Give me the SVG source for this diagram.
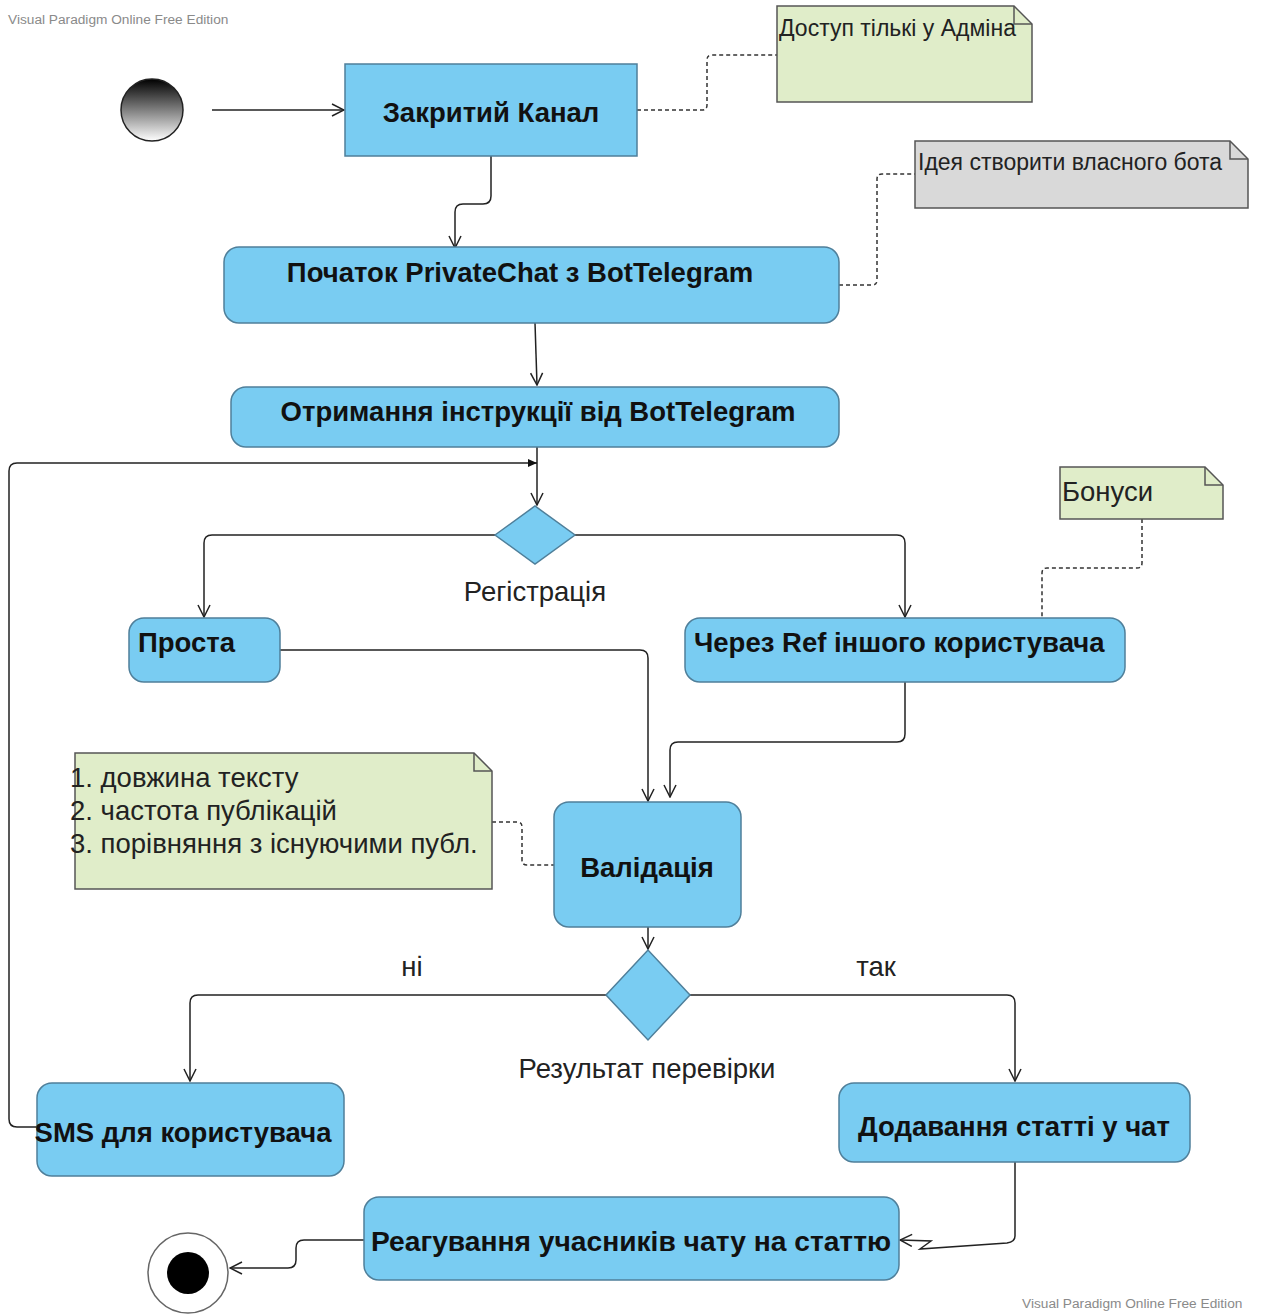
<svg xmlns="http://www.w3.org/2000/svg" width="1262" height="1315" viewBox="0 0 1262 1315">
<style>
.act{fill:#79CCF2;stroke:#4F7F9A;stroke-width:1.5}
.note{fill:#E0EDC9;stroke:#555;stroke-width:1.5}
.gnote{fill:#D9D9D9;stroke:#555;stroke-width:1.5}
.fold{fill:none;stroke:#555;stroke-width:1.5}
.bt{font-family:"Liberation Sans",Arial,sans-serif;font-weight:bold;font-size:27.5px;fill:#111}
.nt{font-family:"Liberation Sans",Arial,sans-serif;font-size:27.5px;fill:#222}
.st{font-family:"Liberation Sans",Arial,sans-serif;font-size:23px;fill:#222}
.lb{font-family:"Liberation Sans",Arial,sans-serif;font-size:27.5px;fill:#222}
.wm{font-family:"Liberation Sans",Arial,sans-serif;font-size:13.7px;fill:#8a8a8a}
.flow{fill:none;stroke:#222;stroke-width:1.5}
.dash{fill:none;stroke:#333;stroke-width:1.5;stroke-dasharray:4 3}
</style>
<defs>
<marker id="open" markerWidth="14" markerHeight="14" refX="13" refY="7" orient="auto" markerUnits="userSpaceOnUse">
<path d="M1,1 L13,7 L1,13" fill="none" stroke="#222" stroke-width="1.5"/>
</marker>
<marker id="solid" markerWidth="10" markerHeight="10" refX="9" refY="5" orient="auto" markerUnits="userSpaceOnUse">
<path d="M0,1 L9,5 L0,9 Z" fill="#111"/>
</marker>
<linearGradient id="startg" x1="0" y1="0" x2="0" y2="1">
<stop offset="0" stop-color="#000"/>
<stop offset="1" stop-color="#fff"/>
</linearGradient>
</defs>
<rect width="1262" height="1315" fill="#fff"/>
<text class="wm" x="8" y="24">Visual Paradigm Online Free Edition</text>
<text class="wm" x="1022" y="1308">Visual Paradigm Online Free Edition</text>

<g id="connectors">
<path class="flow" d="M212,110 L344,110" marker-end="url(#open)"/>
<path class="flow" d="M491,156 L491,196 Q491,204 483,204 L463,204 Q455,204 455,212 L455,248" marker-end="url(#open)"/>
<path class="flow" d="M535,323 L537,385" marker-end="url(#open)"/>
<path class="flow" d="M537,447 L537,505" marker-end="url(#open)"/>
<path class="flow" d="M37,1127 L17,1127 Q9,1127 9,1119 L9,471 Q9,463 17,463 L537,463" marker-end="url(#solid)"/>
<path class="flow" d="M495,535 L212,535 Q204,535 204,543 L204,617" marker-end="url(#open)"/>
<path class="flow" d="M575,535 L897,535 Q905,535 905,543 L905,617" marker-end="url(#open)"/>
<path class="flow" d="M280,650 L640,650 Q648,650 648,658 L648,801" marker-end="url(#open)"/>
<path class="flow" d="M905,682 L905,734 Q905,742 897,742 L678,742 Q670,742 670,750 L670,797" marker-end="url(#open)"/>
<path class="flow" d="M648,927 L648,949" marker-end="url(#open)"/>
<path class="flow" d="M606,995 L198,995 Q190,995 190,1003 L190,1081" marker-end="url(#open)"/>
<path class="flow" d="M690,995 L1007,995 Q1015,995 1015,1003 L1015,1081" marker-end="url(#open)"/>
<path class="flow" d="M1015,1162 L1015,1236 Q1015,1242 1007,1243 L920,1249 L931,1241 L900,1240" marker-end="url(#open)"/>
<path class="flow" d="M364,1240 L304,1240 Q296,1240 296,1248 L296,1260 Q296,1268 288,1268 L230,1268" marker-end="url(#open)"/>
<path class="dash" d="M637,110 L702,110 Q707,110 707,105 L707,60 Q707,55 712,55 L777,55"/>
<path class="dash" d="M839,285 L872,285 Q877,285 877,280 L877,179 Q877,174 882,174 L915,174"/>
<path class="dash" d="M1142,519 L1142,563 Q1142,568 1137,568 L1047,568 Q1042,568 1042,573 L1042,618"/>
<path class="dash" d="M492,822 L517,822 Q522,822 522,827 L522,860 Q522,865 527,865 L554,865"/>
</g>

<g id="start"><ellipse cx="152" cy="110" rx="31" ry="31" fill="url(#startg)" stroke="#222" stroke-width="1.5"/></g>

<g id="closed-channel">
<rect class="act" x="345" y="64" width="292" height="92"/>
<text class="bt" x="491" y="122" text-anchor="middle">Закритий Канал</text>
</g>

<g id="note-admin">
<path class="note" d="M777,6 L1014,6 L1032,24 L1032,102 L777,102 Z"/>
<path class="fold" d="M1014,6 L1014,24 L1032,24"/>
<text class="st" x="779" y="36">Доступ тількі у Адміна</text>
</g>

<g id="private-chat">
<rect class="act" x="224" y="247" width="615" height="76" rx="15"/>
<text class="bt" x="520" y="282" text-anchor="middle">Початок PrivateChat з BotTelegram</text>
</g>

<g id="note-bot">
<path class="gnote" d="M915,141 L1230,141 L1248,159 L1248,208 L915,208 Z"/>
<path class="fold" d="M1230,141 L1230,159 L1248,159"/>
<text class="st" x="918" y="170">Ідея створити власного бота</text>
</g>

<g id="instruction">
<rect class="act" x="231" y="387" width="608" height="60" rx="15"/>
<text class="bt" x="538" y="421" text-anchor="middle">Отримання інструкції від BotTelegram</text>
</g>

<g id="decision-registration">
<path class="act" d="M495,535 L535,506 L575,535 L535,564 Z"/>
<text class="lb" x="535" y="601" text-anchor="middle">Регістрація</text>
</g>

<g id="simple">
<rect class="act" x="129" y="618" width="151" height="64" rx="15"/>
<text class="bt" x="138" y="652">Проста</text>
</g>

<g id="ref">
<rect class="act" x="685" y="618" width="440" height="64" rx="15"/>
<text class="bt" x="694" y="652">Через Ref іншого користувача</text>
</g>

<g id="note-bonus">
<path class="note" d="M1060,467 L1205,467 L1223,485 L1223,519 L1060,519 Z"/>
<path class="fold" d="M1205,467 L1205,485 L1223,485"/>
<text class="nt" x="1062" y="501">Бонуси</text>
</g>

<g id="note-validation">
<path class="note" d="M75,753 L474,753 L492,771 L492,889 L75,889 Z"/>
<path class="fold" d="M474,753 L474,771 L492,771"/>
<text class="nt" x="70" y="787">1. довжина тексту</text>
<text class="nt" x="70" y="820">2. частота публікацій</text>
<text class="nt" x="70" y="853">3. порівняння з існуючими публ.</text>
</g>

<g id="validation">
<rect class="act" x="554" y="802" width="187" height="125" rx="15"/>
<text class="bt" x="647" y="877" text-anchor="middle">Валідація</text>
</g>

<g id="decision-result">
<path class="act" d="M606,995 L648,950 L690,995 L648,1040 Z"/>
<text class="lb" x="647" y="1078" text-anchor="middle">Результат перевірки</text>
<text class="lb" x="412" y="976" text-anchor="middle">ні</text>
<text class="lb" x="876" y="976" text-anchor="middle">так</text>
</g>

<g id="sms">
<rect class="act" x="37" y="1083" width="307" height="93" rx="15"/>
<text class="bt" x="183" y="1142" text-anchor="middle">SMS для користувача</text>
</g>

<g id="add-article">
<rect class="act" x="839" y="1083" width="351" height="79" rx="15"/>
<text class="bt" x="1014" y="1136" text-anchor="middle">Додавання статті у чат</text>
</g>

<g id="reaction">
<rect class="act" x="364" y="1197" width="535" height="83" rx="15"/>
<text class="bt" x="631" y="1251" text-anchor="middle" style="font-size:28.2px">Реагування учасників чату на статтю</text>
</g>

<g id="end">
<circle cx="188" cy="1273" r="40" fill="#fff" stroke="#666" stroke-width="1.5"/>
<circle cx="188" cy="1273" r="21" fill="#000"/>
</g>
</svg>
